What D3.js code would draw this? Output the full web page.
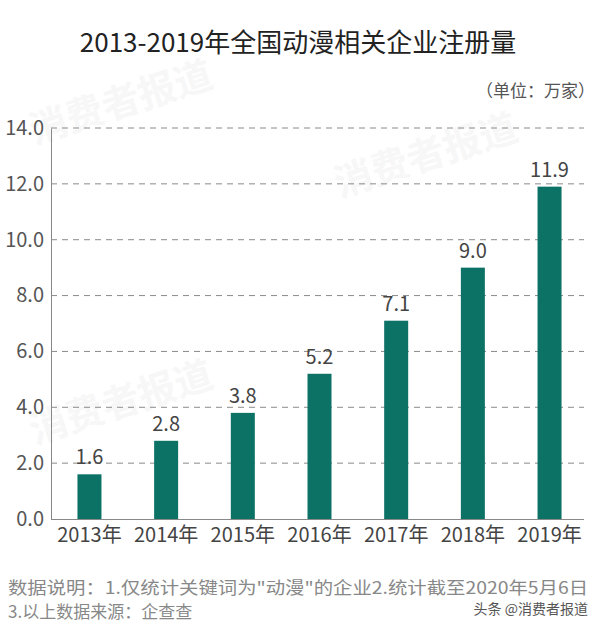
<!DOCTYPE html>
<html>
<head>
<meta charset="utf-8">
<script src="https://cdn.jsdelivr.net/npm/d3@7"></script>
<style>
  body { margin: 0; background: #fff; }
  text { font-family: "Noto Sans CJK SC", "Noto Sans", sans-serif; }
</style>
</head>
<body>
<svg id="chart"></svg>
<script>
// data
const years = ['2013年', '2014年', '2015年', '2016年', '2017年', '2018年', '2019年'];
const counts = [1.6, 2.8, 3.8, 5.2, 7.1, 9.0, 11.9];
const yTicks = [0, 2, 4, 6, 8, 10, 12, 14];

const W = 600, H = 627;
const svg = d3.select('#chart').attr('width', W).attr('height', H);

// faint background watermarks
const marks = [[125, 115], [430, 168], [125, 415]];
svg.selectAll('.wm')
  .data(marks)
  .join('text')
    .attr('transform', d => `translate(${d[0]},${d[1]}) rotate(-18)`)
    .attr('text-anchor', 'middle')
    .attr('font-size', 38)
    .attr('font-weight', 'bold')
    .attr('fill', '#f7f7f7')
    .text('消费者报道');

// title + unit
svg.append('text')
  .attr('x', 298).attr('y', 52)
  .attr('text-anchor', 'middle')
  .attr('font-size', 26)
  .attr('fill', '#222')
  .text('2013-2019年全国动漫相关企业注册量');
svg.append('text')
  .attr('x', 595).attr('y', 97)
  .attr('text-anchor', 'end')
  .attr('font-size', 17)
  .attr('fill', '#555')
  .text('（单位：万家）');

// scales
const x = d3.scaleBand()
  .domain(years)
  .range([51, 588])
  .paddingInner(0.687)
  .paddingOuter(0.345);
const y = d3.scaleLinear()
  .domain([0, 14])
  .range([519, 128]);

// gridlines (dashed)
svg.append('g')
  .selectAll('line')
  .data(yTicks.filter(t => t > 0))
  .join('line')
    .attr('x1', 51).attr('x2', 584)
    .attr('y1', d => y(d)).attr('y2', d => y(d))
    .attr('stroke', '#8a8a8a')
    .attr('stroke-width', 1)
    .attr('stroke-dasharray', '6,5');

// y axis
const yAxis = d3.axisLeft(y)
  .tickValues(yTicks)
  .tickFormat(d3.format('.1f'))
  .tickSize(0)
  .tickPadding(7);
const gy = svg.append('g')
  .attr('transform', 'translate(51,0)')
  .call(yAxis);
gy.select('.domain').attr('stroke', '#888');
gy.selectAll('text')
  .attr('font-size', 20)
  .attr('fill', '#555')
  .style('font-family', '"Noto Sans CJK SC", sans-serif');

// x axis
const xAxis = d3.axisBottom(x).tickSize(0).tickPadding(9);
const gx = svg.append('g')
  .attr('transform', 'translate(0,519)')
  .call(xAxis);
gx.select('.domain').attr('d', 'M51,0.5H584').attr('stroke', '#888');
gx.selectAll('text')
  .attr('font-size', 20)
  .attr('fill', '#444')
  .style('font-family', '"Noto Sans CJK SC", sans-serif');

// bars
svg.selectAll('.bar')
  .data(counts)
  .join('rect')
    .attr('class', 'bar')
    .attr('x', (v, i) => x(years[i]))
    .attr('y', v => y(v))
    .attr('width', x.bandwidth())
    .attr('height', v => y(0) - y(v))
    .attr('fill', '#0d7266');

// value labels
svg.selectAll('.val')
  .data(counts)
  .join('text')
    .attr('class', 'val')
    .attr('x', (v, i) => x(years[i]) + x.bandwidth() / 2)
    .attr('y', v => y(v) - 10)
    .attr('text-anchor', 'middle')
    .attr('font-size', 20)
    .attr('fill', '#444')
    .text(v => v.toFixed(1));

// footnote
svg.append('text')
  .attr('x', 8).attr('y', 594)
  .attr('font-size', 17)
  .attr('fill', '#888')
  .attr('textLength', 580)
  .attr('lengthAdjust', 'spacingAndGlyphs')
  .text('数据说明：1.仅统计关键词为"动漫"的企业2.统计截至2020年5月6日');
svg.append('text')
  .attr('x', 8).attr('y', 618)
  .attr('font-size', 17)
  .attr('fill', '#888')
  .text('3.以上数据来源：企查查');
svg.append('text')
  .attr('x', 588).attr('y', 614)
  .attr('text-anchor', 'end')
  .attr('font-size', 14)
  .attr('fill', '#555')
  .attr('stroke', '#fff')
  .attr('stroke-width', 3)
  .attr('paint-order', 'stroke')
  .text('头条 @消费者报道');
</script>
</body>
</html>
